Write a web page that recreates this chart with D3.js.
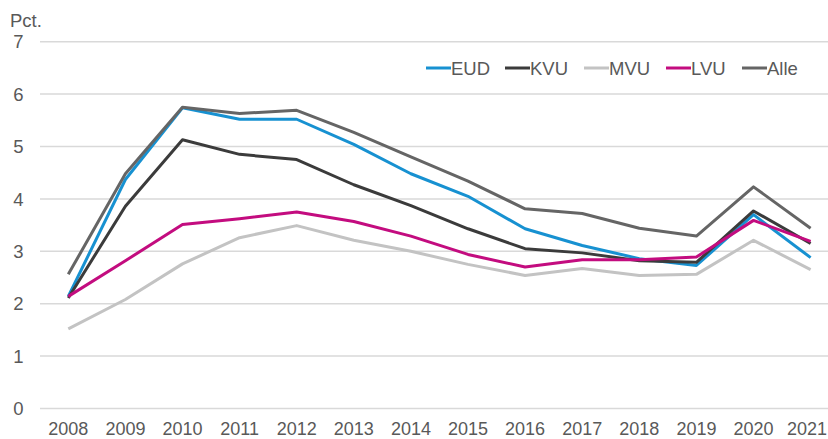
<!DOCTYPE html>
<html>
<head>
<meta charset="utf-8">
<script src="https://cdn.jsdelivr.net/npm/d3@7"></script>
<style>
  html, body { margin: 0; padding: 0; background: #fff; }
  svg { display: block; }
  text { font-family: "Liberation Sans", Arial, sans-serif; }
</style>
</head>
<body>
<svg id="chart" width="828" height="439"></svg>
<script>
const years = [2008, 2009, 2010, 2011, 2012, 2013, 2014, 2015, 2016, 2017, 2018, 2019, 2020, 2021];
const yTicks = [0, 1, 2, 3, 4, 5, 6, 7];
const seriesNames = ["EUD", "KVU", "MVU", "LVU", "Alle"];
const seriesColors = ["#1791d1", "#3b3b3b", "#c3c3c3", "#c30c7f", "#656565"];
const EUD  = [2.14, 4.37, 5.74, 5.52, 5.52, 5.04, 4.48, 4.05, 3.43, 3.11, 2.86, 2.73, 3.70, 2.88];
const KVU  = [2.11, 3.86, 5.13, 4.85, 4.75, 4.27, 3.87, 3.43, 3.05, 2.97, 2.82, 2.79, 3.77, 3.15];
const MVU  = [1.52, 2.08, 2.76, 3.26, 3.49, 3.21, 3.00, 2.75, 2.54, 2.67, 2.54, 2.56, 3.21, 2.65];
const LVU  = [2.14, 2.82, 3.51, 3.62, 3.75, 3.57, 3.29, 2.94, 2.70, 2.84, 2.84, 2.89, 3.59, 3.19];
const Alle = [2.56, 4.48, 5.75, 5.63, 5.69, 5.27, 4.80, 4.34, 3.81, 3.72, 3.44, 3.29, 4.23, 3.44];
const seriesValues = [EUD, KVU, MVU, LVU, Alle];

const svg = d3.select("#chart");
const x = d3.scalePoint().domain(years).range([68.3, 810.6]);
const y = d3.scaleLinear().domain([0, 7]).range([408.5, 41.7]);

// gridlines
svg.append("g").selectAll("line").data(yTicks).join("line")
  .attr("x1", 40).attr("x2", 828)
  .attr("y1", d => y(d)).attr("y2", d => y(d))
  .attr("stroke", "#d9d9d9").attr("stroke-width", 1.5);

// y labels
svg.append("g").selectAll("text").data(yTicks).join("text")
  .attr("x", 18.5).attr("y", d => y(d)).attr("dy", "0.36em")
  .attr("text-anchor", "middle").attr("font-size", 18.5).attr("fill", "#595959")
  .text(d => d);

// unit
svg.append("text").attr("x", 10).attr("y", 27).attr("font-size", 18.5)
  .attr("fill", "#595959").text("Pct.");

// x labels (last one kept inside the right edge)
const lastYear = years[years.length - 1];
svg.append("g").selectAll("text").data(years).join("text")
  .attr("x", d => d === lastYear ? 827 : x(d)).attr("y", 435)
  .attr("text-anchor", d => d === lastYear ? "end" : "middle")
  .attr("font-size", 18).attr("fill", "#595959").text(d => d);

// lines
const line = d3.line().x((d, i) => x(years[i])).y(d => y(d));
svg.append("g").selectAll("path").data(seriesValues).join("path")
  .attr("d", d => line(d)).attr("fill", "none")
  .attr("stroke", (d, i) => seriesColors[i]).attr("stroke-width", 3)
  .attr("stroke-linejoin", "round");

// legend
const legX = [426, 505, 584, 666, 742];
const leg = svg.append("g").selectAll("g").data(seriesNames).join("g")
  .attr("transform", (d, i) => `translate(${legX[i]},68)`);
leg.append("line").attr("x1", 0).attr("x2", 25).attr("y1", 0).attr("y2", 0)
  .attr("stroke", (d, i) => seriesColors[i]).attr("stroke-width", 3);
leg.append("text").attr("x", 25).attr("y", 0).attr("dy", "0.36em")
  .attr("font-size", 18.5).attr("fill", "#595959").text(d => d);
</script>
</body>
</html>
